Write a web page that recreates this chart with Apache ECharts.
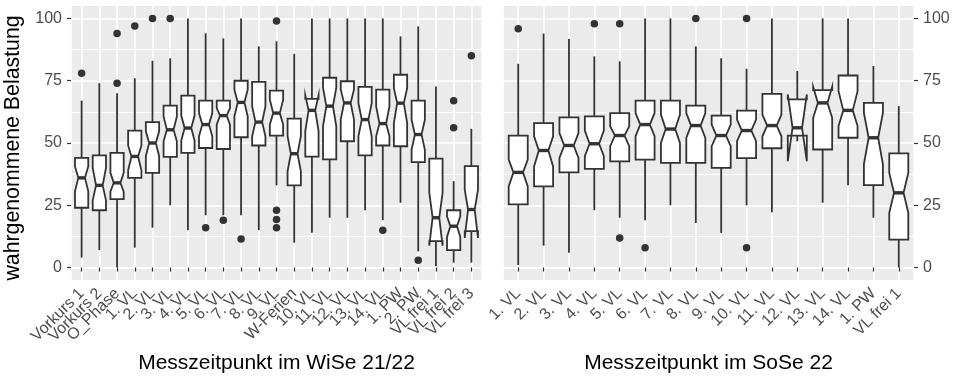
<!DOCTYPE html>
<html>
<head>
<meta charset="utf-8">
<script src="https://cdn.jsdelivr.net/npm/echarts@6/dist/echarts.min.js"></script>
<style>
  html, body { margin: 0; padding: 0; background: #fff; }
  #chart { width: 954px; height: 376px; }
</style>
</head>
<body>
<div id="chart"></div>
<script>
// Messzeitpunkte
const wiseCats = ['Vorkurs 1', 'Vorkurs 2', 'O_Phase', '1. VL', '2. VL', '3. VL', '4. VL', '5. VL', '6. VL',
  '7. VL', '8. VL', '9. VL', 'W-Ferien', '10. VL', '11. VL', '12. VL', '13. VL', '14. VL', '1. PW', '2. PW',
  'VL frei 1', 'VL frei 2', 'VL frei 3']
const soseCats = ['1. VL', '2. VL', '3. VL', '4. VL', '5. VL', '6. VL', '7. VL', '8. VL', '9. VL',
  '10. VL', '11. VL', '12. VL', '13. VL', '14. VL', '1. PW', 'VL frei 1']

// Kennwerte WiSe 21/22 (untere Antenne, Q1, Median, Q3, obere Antenne, Kerbe unten, Kerbe oben)
const wiseLow = [4, 7, 0, 8, 16, 25, 15, 21, 21, 21, 15, 33, 10, 14, 20, 20, 23, 19, 26, 6.5, 0.5, 2, 2]
const wiseQ1 = [24, 23, 27.5, 36, 38, 44.4, 46, 48, 47.6, 52.3, 49, 53, 33, 44.5, 43.4, 50.7, 45, 49, 48.7, 42.3, 10.6, 7, 14.6]
const wiseMed = [36, 33, 34, 44.6, 50, 55.3, 56, 57.4, 61, 66.3, 58.4, 62, 45.7, 63.1, 64.8, 66.1, 59.4, 57.8, 66, 53.4, 20, 16.6, 23.3]
const wiseQ3 = [44, 45, 46, 55, 58.4, 65, 69, 67, 67, 75, 74.5, 71, 59.8, 67.7, 76.2, 74.8, 72.5, 71.4, 77.4, 67, 43.7, 23, 40.7]
const wiseHigh = [67, 74, 70, 76, 83, 84, 100, 94, 92, 100, 88.8, 90.8, 85.8, 100, 100, 100, 100, 100, 92.8, 96.8, 72.7, 34.7, 55.7]
const wiseNotchLo = [30.6, 27, 30.5, 39, 44.7, 50.7, 51, 52.7, 57.4, 60.7, 52.7, 57.4, 38.6, 54.8, 56.7, 59.4, 52.7, 52.7, 58, 47.3, 8.8, 12.3, 11.9]
const wiseNotchHi = [40.6, 40, 38, 49, 54.7, 60.7, 61, 62, 64, 71.4, 64.7, 67.4, 52.7, 69.1, 72.2, 71.5, 66, 64.7, 72, 59.4, 30, 20.6, 31.3]
const wiseOut = [[0, 78], [2, 94], [2, 74], [3, 97], [4, 100], [5, 100], [7, 16], [8, 19], [9, 11.5],
  [11, 99], [11, 23], [11, 19.3], [11, 16], [17, 15], [19, 2.9], [21, 67], [21, 56.1], [22, 85]]

// Kennwerte SoSe 22
const soseLow = [1, 8.8, 5.9, 23, 20, 19, 25, 17.9, 13.9, 25, 22.2, 50.7, 26, 33, 20, 0]
const soseQ1 = [25.4, 32.6, 38.2, 39.6, 42.6, 43.3, 42, 42, 40, 43.9, 47.9, 53, 47.4, 52.1, 33.1, 11.2]
const soseMed = [38.2, 47, 49, 49.7, 53, 57.4, 55.6, 57, 53, 55, 57, 56.1, 66.1, 63.1, 52.1, 30]
const soseQ3 = [53, 58, 60.3, 60.7, 62, 67, 67, 65, 61, 63, 69.7, 67.5, 71.2, 77.1, 66.1, 45.8]
const soseHigh = [81.8, 93.9, 91.8, 84.8, 82.8, 100, 100, 88.8, 84, 79.8, 100, 78.9, 100, 100, 80.9, 64.8]
const soseNotchLo = [32.6, 40.6, 44, 44.7, 48.7, 52.7, 50, 52, 48.7, 50.7, 52.7, 42.7, 60.1, 56.8, 41.4, 22]
const soseNotchHi = [43.3, 52.7, 54, 55, 56.7, 62, 61.4, 62, 57.4, 59.4, 61.4, 69.5, 72.6, 70.8, 62.1, 38]
const soseOut = [[0, 95.9], [3, 97.9], [4, 97.9], [4, 11.9], [5, 7.9], [7, 100], [9, 100], [9, 7.9]]

const yTicks = [0, 25, 50, 75, 100]
const yMinor = [12.5, 37.5, 62.5, 87.5]

const textColor = '#4D4D4D'
const lineColor = '#333333'
const font = 'Liberation Sans'

const chart = echarts.init(document.getElementById('chart'))

const boxRows = (low, q1, med, q3, high, nlo, nhi) =>
  low.map((v, i) => [i, v, q1[i], med[i], q3[i], high[i], nlo[i], nhi[i]])

// gekerbter Boxplot wie bei ggplot2
const renderNotchBox = (params, api) => {
  const x = api.value(0)
  const y = (v) => api.coord([x, v])[1]
  const cx = api.coord([x, 0])[0]
  const bw = api.size([1, 0])[0] * 0.75
  const xl = cx - bw / 2
  const xr = cx + bw / 2
  const ind = bw * 0.25
  const lo = y(api.value(1)), q1 = y(api.value(2)), med = y(api.value(3))
  const q3 = y(api.value(4)), hi = y(api.value(5)), nlo = y(api.value(6)), nhi = y(api.value(7))
  const stroke = { stroke: lineColor, lineWidth: 1.8 }
  return {
    type: 'group',
    children: [
      { type: 'line', shape: { x1: cx, y1: q3, x2: cx, y2: hi }, style: stroke },
      { type: 'line', shape: { x1: cx, y1: q1, x2: cx, y2: lo }, style: stroke },
      {
        type: 'polygon',
        shape: {
          points: [[xl, q3], [xl, nhi], [xl + ind, med], [xl, nlo], [xl, q1],
            [xr, q1], [xr, nlo], [xr - ind, med], [xr, nhi], [xr, q3]]
        },
        style: { fill: '#ffffff', stroke: lineColor, lineWidth: 1.8, lineJoin: 'miter' }
      },
      { type: 'line', shape: { x1: xl + ind, y1: med, x2: xr - ind, y2: med }, style: { stroke: lineColor, lineWidth: 3.4 } }
    ]
  }
}

const xAxisFor = (cats, gridIndex, title) => {
  // Randwerte mit leerer Beschriftung, damit echte Beschriftungen nicht ausgeblendet werden
  const pos = [-0.6, ...cats.map((c, i) => i), cats.length - 0.4]
  return {
    type: 'value',
    gridIndex,
    min: -0.6,
    max: cats.length - 0.4,
    name: title,
    nameLocation: 'middle',
    nameGap: 73,
    nameTextStyle: { color: '#000', fontSize: 21, fontFamily: font },
    axisLine: { show: false },
    axisTick: { show: true, length: 4, customValues: pos, lineStyle: { color: lineColor, width: 1.2 } },
    axisLabel: {
      customValues: pos,
      formatter: (v) => (Number.isInteger(v) ? cats[v] : ''),
      showMinLabel: false,
      showMaxLabel: false,
      hideOverlap: false,
      rotate: 45,
      margin: 11,
      color: textColor,
      fontSize: 16,
      fontFamily: font
    },
    splitLine: { show: true, lineStyle: { color: '#ffffff', width: 1.6 } }
  }
}

const yAxisFor = (gridIndex, position, name) => ({
  type: 'value',
  gridIndex,
  position,
  min: -5,
  max: 105,
  name,
  nameLocation: 'middle',
  nameGap: 47,
  nameTextStyle: { color: '#000', fontSize: 21.3, fontFamily: font, padding: [0, 10, 0, 0] },
  axisLine: { show: false },
  axisTick: { show: true, length: 4, customValues: yTicks, lineStyle: { color: lineColor, width: 1.2 } },
  axisLabel: { customValues: yTicks, margin: 9, color: textColor, fontSize: 16, fontFamily: font },
  splitLine: { show: true, lineStyle: { color: '#ffffff', width: 1.6 } }
})

// Hilfsachsen nur für die feinen Zwischenlinien
const minorAxisFor = (gridIndex) => ({
  type: 'value',
  gridIndex,
  min: -5,
  max: 105,
  axisLine: { show: false },
  axisTick: { show: false, customValues: yMinor },
  axisLabel: { show: false },
  splitLine: { show: true, lineStyle: { color: '#ffffff', width: 1 } }
})

const option = {
  backgroundColor: '#ffffff',
  animation: false,
  grid: [
    { left: 71, top: 6, width: 411, height: 274, outerBoundsMode: 'none', show: true, backgroundColor: '#EBEBEB', borderWidth: 0 },
    { left: 503, top: 6, width: 411, height: 274, outerBoundsMode: 'none', show: true, backgroundColor: '#EBEBEB', borderWidth: 0 }
  ],
  xAxis: [
    xAxisFor(wiseCats, 0, 'Messzeitpunkt im WiSe 21/22'),
    xAxisFor(soseCats, 1, 'Messzeitpunkt im SoSe 22')
  ],
  yAxis: [
    minorAxisFor(0),
    minorAxisFor(1),
    yAxisFor(0, 'left', 'wahrgenommene Belastung'),
    yAxisFor(1, 'right', '')
  ],
  series: [
    {
      type: 'custom',
      xAxisIndex: 0,
      yAxisIndex: 2,
      renderItem: renderNotchBox,
      encode: { x: 0, y: [1, 5] },
      data: boxRows(wiseLow, wiseQ1, wiseMed, wiseQ3, wiseHigh, wiseNotchLo, wiseNotchHi)
    },
    {
      type: 'custom',
      xAxisIndex: 1,
      yAxisIndex: 3,
      renderItem: renderNotchBox,
      encode: { x: 0, y: [1, 5] },
      data: boxRows(soseLow, soseQ1, soseMed, soseQ3, soseHigh, soseNotchLo, soseNotchHi)
    },
    {
      type: 'scatter',
      xAxisIndex: 0,
      yAxisIndex: 2,
      symbol: 'circle',
      symbolSize: 7.5,
      itemStyle: { color: lineColor, opacity: 1 },
      data: wiseOut
    },
    {
      type: 'scatter',
      xAxisIndex: 1,
      yAxisIndex: 3,
      symbol: 'circle',
      symbolSize: 7.5,
      itemStyle: { color: lineColor, opacity: 1 },
      data: soseOut
    }
  ]
}

chart.setOption(option)
</script>
</body>
</html>
